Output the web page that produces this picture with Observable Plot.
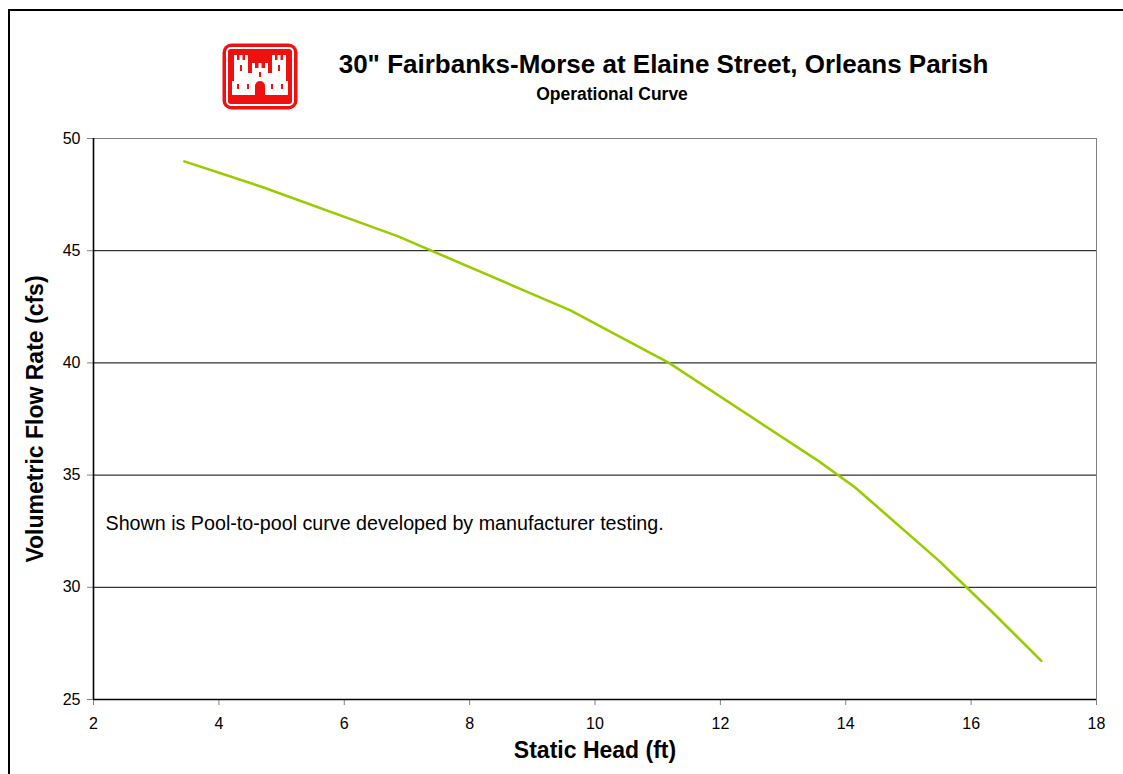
<!DOCTYPE html>
<html>
<head>
<meta charset="utf-8">
<script src="https://cdn.jsdelivr.net/npm/d3@7"></script>
<script src="https://cdn.jsdelivr.net/npm/@observablehq/plot@0.6"></script>
<style>
  html, body { margin: 0; padding: 0; background: #fff; }
  body { width: 1123px; height: 774px; position: relative; overflow: hidden; font-family: "Liberation Sans", Arial, sans-serif; }
  #frame { position: absolute; left: 8px; top: 9px; width: 2000px; height: 2000px; border-left: 2px solid #000; border-top: 2px solid #000; }
  #chart { position: absolute; left: 0; top: 0; }
  #title { position: absolute; left: 0; width: 1327px; top: 49px; text-align: center; font-weight: bold; font-size: 26px; color: #000; white-space: nowrap; }
  #subtitle { position: absolute; left: 0; width: 1224px; top: 84px; text-align: center; font-weight: bold; font-size: 17.5px; color: #000; white-space: nowrap; }
  #logo { position: absolute; left: 222px; top: 43px; }
</style>
</head>
<body>
<div id="frame"></div>
<div id="chart"></div>
<svg id="logo" width="76" height="67" viewBox="0 0 76 67">
  <rect x="0.5" y="0.5" width="75" height="66" rx="9" fill="#f01010"/>
  <rect x="5" y="5" width="66" height="57" rx="4" fill="none" stroke="#fff" stroke-width="2"/>
  <g fill="#fff">
    <rect x="12" y="17" width="14" height="35"/>
    <rect x="12" y="12" width="3" height="6"/>
    <rect x="17.5" y="12" width="3" height="6"/>
    <rect x="23" y="12" width="3" height="6"/>
    <rect x="50" y="17" width="14" height="35"/>
    <rect x="50" y="12" width="3" height="6"/>
    <rect x="55.5" y="12" width="3" height="6"/>
    <rect x="61" y="12" width="3" height="6"/>
    <rect x="30" y="25" width="16" height="14"/>
    <rect x="30" y="20" width="3" height="6"/>
    <rect x="36.5" y="20" width="3" height="6"/>
    <rect x="43" y="20" width="3" height="6"/>
    <rect x="24" y="30" width="28" height="22"/>
    <rect x="10" y="38" width="56" height="14"/>
  </g>
  <g fill="#f01010">
    <path d="M33 52 V43 a5 5 0 0 1 10 0 V52 Z"/>
    <rect x="18" y="22" width="2" height="6"/>
    <rect x="56" y="22" width="2" height="6"/>
    <rect x="37" y="29" width="2" height="5"/>
    <rect x="15" y="41" width="2" height="5"/>
    <rect x="59" y="41" width="2" height="5"/>
    <rect x="25" y="41" width="2" height="5"/>
    <rect x="49" y="41" width="2" height="5"/>
  </g>
</svg>
<div id="title">30" Fairbanks-Morse at Elaine Street, Orleans Parish</div>
<div id="subtitle">Operational Curve</div>
<script>
// Data
const staticHead = [3.45, 4.68, 6.85, 9.6, 11.18, 13.58, 14.15, 15.48, 16.3, 17.12];
const flowRate   = [48.98, 47.85, 45.65, 42.35, 40.0, 35.6, 34.45, 31.2, 29.0, 26.72];
const xTicks = [2, 4, 6, 8, 10, 12, 14, 16, 18];
const yTicks = [25, 30, 35, 40, 45, 50];
const gridValues = [30, 35, 40, 45];
const xTitle = "Static Head (ft)";
const yTitle = "Volumetric Flow Rate (cfs)";
const note = "Shown is Pool-to-pool curve developed by manufacturer testing.";

const data = staticHead.map((h, i) => ({head: h, flow: flowRate[i]}));

const chart = Plot.plot({
  width: 1123,
  height: 774,
  marginLeft: 93,
  marginRight: 27,
  marginTop: 138,
  marginBottom: 75,
  style: {fontFamily: "'Liberation Sans', Arial, sans-serif", color: "#000", background: "transparent", overflow: "visible"},
  x: {domain: [2, 18]},
  y: {domain: [25, 50]},
  marks: [
    Plot.ruleY(gridValues, {stroke: "#000", strokeWidth: 1}),
    Plot.ruleY([50], {stroke: "#808080", strokeWidth: 1}),
    Plot.ruleX([18], {stroke: "#808080", strokeWidth: 1}),
    Plot.axisX({ticks: xTicks, tickSize: 6, tickPadding: 12, stroke: "#808080", color: "#000", fontSize: 16, label: null, tickFormat: d => String(d)}),
    Plot.axisY({ticks: yTicks, tickSize: 6, tickPadding: 7, stroke: "#808080", color: "#000", fontSize: 16, label: null, tickFormat: d => String(d)}),
    Plot.ruleY([25], {stroke: "#000", strokeWidth: 1.6}),
    Plot.ruleX([2], {stroke: "#000", strokeWidth: 1.6}),
    Plot.line(data, {x: "head", y: "flow", stroke: "#99cc00", strokeWidth: 2.6}),
    Plot.text([note], {text: d => d, frameAnchor: "left", dx: 12, dy: 105, textAnchor: "start", fontSize: 19.7}),
    Plot.text([yTitle], {text: d => d, frameAnchor: "left", dx: -58, rotate: -90, textAnchor: "middle", lineAnchor: "middle", fontSize: 23, fontWeight: "bold"}),
    Plot.text([xTitle], {text: d => d, frameAnchor: "bottom", dy: 51, textAnchor: "middle", lineAnchor: "middle", fontSize: 23, fontWeight: "bold"})
  ]
});
document.getElementById("chart").appendChild(chart);
</script>
</body>
</html>
